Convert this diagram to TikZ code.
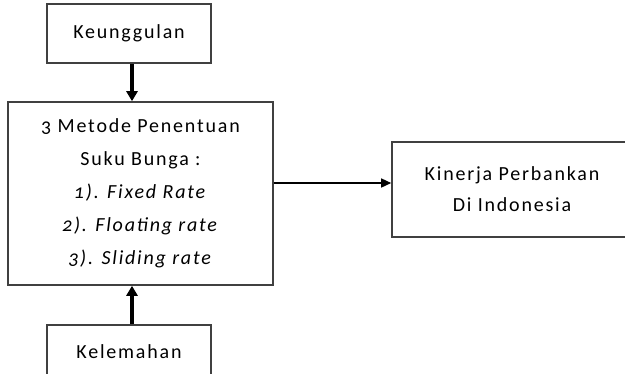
\documentclass[tikz,border=0pt]{standalone}
\usepackage{fontspec}
\setmainfont{Carlito}[Numbers=OldStyle, LetterSpace=9]
\usetikzlibrary{arrows.meta}
\begin{document}
\begin{tikzpicture}[x=1pt,y=-1pt,
  box/.style={draw=black!75, line width=1.6pt, inner sep=0pt, align=center,
    font=\fontsize{20}{33}\selectfont},
  bigarrow/.style={line width=3.5pt, -{Triangle[length=10pt,width=11pt]}},
  thinarrow/.style={line width=1.5pt, -{Triangle[length=10pt,width=9pt]}}]
\useasboundingbox (0,0) rectangle (625,373);
\clip (0,0) rectangle (625,373);
\fill[white] (0,0) rectangle (625,373);
\node[box, minimum width=164pt, minimum height=59pt] (k) at (129,33.5) {Keunggulan};
\node[box, minimum width=265pt, minimum height=183pt] (m) at (140.5,193.5)
  {3 Metode Penentuan\\Suku Bunga :\\\textit{1). Fixed Rate}\\\textit{2). Floating rate}\\\textit{3). Sliding rate}};
\node[box, minimum width=164pt, minimum height=62pt] (l) at (129,356) {\raisebox{8pt}{Kelemahan}};
\node[box, minimum width=240pt, minimum height=95pt] (r) at (512,189.5) {Kinerja Perbankan\\[-2pt]Di Indonesia};
\coordinate (ax) at (132,0);
\coordinate (ay) at (0,183);
\draw[bigarrow] (k.south -| ax) -- (m.north -| ax);
\draw[bigarrow] (l.north -| ax) -- (m.south -| ax);
\draw[thinarrow] (m.east |- ay) -- (r.west |- ay);
\end{tikzpicture}
\end{document}
